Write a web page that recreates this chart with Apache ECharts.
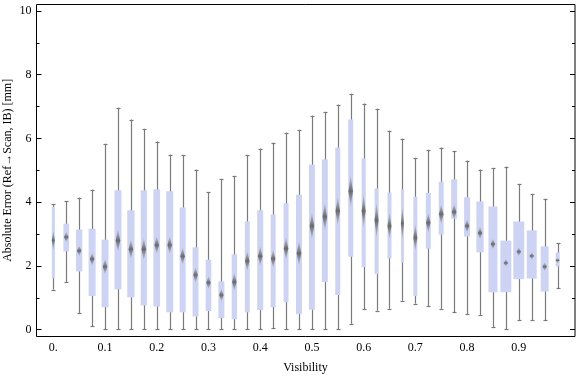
<!DOCTYPE html>
<html>
<head>
<meta charset="utf-8">
<script src="https://cdn.jsdelivr.net/npm/echarts@6/dist/echarts.min.js"></script>
<style>
  html, body { margin: 0; padding: 0; background: #fff; }
  #chart { width: 576px; height: 377px; }
</style>
</head>
<body>
<div id="chart"></div>
<script>
var visibility = ['0.', '0.025', '0.05', '0.075', '0.1', '0.125', '0.15', '0.175', '0.2', '0.225',
  '0.25', '0.275', '0.3', '0.325', '0.35', '0.375', '0.4', '0.425', '0.45', '0.475',
  '0.5', '0.525', '0.55', '0.575', '0.6', '0.625', '0.65', '0.675', '0.7', '0.725',
  '0.75', '0.775', '0.8', '0.825', '0.85', '0.875', '0.9', '0.925', '0.95', '0.975'];

var whiskerLow = [1.25, 1.48, 0.52, 0.10, 0, 0, 0, 0, 0, 0,
  0, 0, 0, 0, 0, 0, 0, 0.05, 0, 0,
  0, 0, 0, 0.18, 0.63, 0.59, 0.65, 0.90, 0.81, 0.74,
  0.65, 0.55, 0.49, 0.46, 0.08, 0, 0.30, 0.30, 0.30, 1.30];
var quart1 = [1.61, 2.45, 1.82, 1.05, 0.70, 1.26, 1.01, 0.75, 0.72, 0.54,
  0.54, 0.41, 0.58, 0.36, 0.32, 0.54, 0.61, 0.70, 0.86, 0.48,
  0.62, 1.49, 1.08, 2.28, 1.96, 1.74, 2.23, 2.10, 1.05, 2.54,
  2.98, 3.48, 2.92, 2.42, 1.17, 1.17, 1.58, 1.60, 1.19, 1.98];
var median = [2.80, 2.90, 2.47, 2.21, 1.97, 2.79, 2.52, 2.52, 2.65, 2.65,
  2.30, 1.71, 1.47, 1.08, 1.49, 2.15, 2.30, 2.22, 2.54, 2.39,
  3.25, 3.54, 3.72, 4.34, 3.72, 3.43, 3.25, 3.33, 2.88, 3.35,
  3.62, 3.69, 3.25, 3.03, 2.68, 2.09, 2.44, 2.31, 1.97, 2.17];
var quart3 = [3.85, 3.32, 3.14, 3.16, 2.82, 4.37, 3.74, 4.37, 4.40, 4.34,
  3.83, 2.58, 2.19, 1.51, 2.36, 3.39, 3.74, 3.61, 3.96, 4.23,
  5.18, 5.34, 5.71, 6.59, 5.37, 4.43, 4.30, 4.40, 4.17, 4.29,
  4.64, 4.71, 4.15, 4.02, 3.86, 2.79, 3.39, 3.11, 2.61, 2.42];
var whiskerHigh = [3.94, 4.03, 4.14, 4.39, 5.83, 6.96, 6.59, 6.30, 5.90, 5.49,
  5.48, 5.02, 4.31, 4.73, 4.82, 5.48, 5.68, 5.86, 6.18, 6.27,
  6.71, 6.83, 7.06, 7.40, 7.09, 6.93, 6.24, 5.99, 5.39, 5.64,
  5.71, 5.59, 5.30, 5.02, 5.07, 5.11, 4.57, 4.26, 4.10, 2.70];
// half height of the median diamond (uncertainty of the median)
var medianSpread = [0.31, 0.16, 0.16, 0.20, 0.24, 0.36, 0.31, 0.35, 0.28, 0.28,
  0.27, 0.24, 0.20, 0.19, 0.28, 0.31, 0.31, 0.28, 0.35, 0.39,
  0.42, 0.44, 0.44, 0.50, 0.52, 0.55, 0.42, 0.52, 0.42, 0.31,
  0.31, 0.24, 0.20, 0.19, 0.16, 0.11, 0.13, 0.11, 0.13, 0.08];
// relative sample weight, sets the box width
var boxWeight = [3, 5.7, 6.3, 7, 7, 7, 7.3, 6.3, 6.7, 7,
  6, 6, 5.7, 6, 5.3, 5, 6, 5, 5, 6,
  6, 6, 5, 5, 4, 4, 4, 3, 4, 5,
  5, 6, 6, 7.3, 9, 11, 11, 10, 8, 4];

var yTicks = { min: 0, max: 10, interval: 2 };

var boxData = [];
for (var i = 0; i < visibility.length; ++i) {
  boxData.push([i, whiskerLow[i], quart1[i], median[i], quart3[i], whiskerHigh[i]]);
}

var serif = 'Liberation Serif, Times New Roman, serif';
var boxColor = '#ccd3f5';
var whiskerColor = '#7a7a7a';

function renderBox(params, api) {
  var i = api.value(0);
  var xc = api.coord([i, 0])[0];
  var band = api.size([1, 0])[0];
  var w = boxWeight[i] * band / 13;
  var yLow = api.coord([i, api.value(1)])[1];
  var yQ1 = api.coord([i, api.value(2)])[1];
  var yMed = api.coord([i, api.value(3)])[1];
  var yQ3 = api.coord([i, api.value(4)])[1];
  var yHigh = api.coord([i, api.value(5)])[1];
  var dh = api.size([0, medianSpread[i]])[1];
  var dw = Math.min(w, 4.5) / 2;
  var xl = Math.round(xc) + 0.5;
  var cap = 2;
  return {
    type: 'group',
    children: [
      { type: 'line', shape: { x1: xl, y1: yLow, x2: xl, y2: yHigh },
        style: { stroke: whiskerColor, lineWidth: 1.2 } },
      { type: 'line', shape: { x1: xl - cap, y1: Math.round(yLow) + 0.5, x2: xl + cap, y2: Math.round(yLow) + 0.5 },
        style: { stroke: whiskerColor, lineWidth: 1.2 } },
      { type: 'line', shape: { x1: xl - cap, y1: Math.round(yHigh) + 0.5, x2: xl + cap, y2: Math.round(yHigh) + 0.5 },
        style: { stroke: whiskerColor, lineWidth: 1.2 } },
      { type: 'rect', shape: { x: xc - w / 2, y: yQ3, width: w, height: yQ1 - yQ3 },
        style: { fill: boxColor } },
      { type: 'polygon',
        shape: { points: [[xc, yMed - dh], [xc + dw, yMed], [xc, yMed + dh], [xc - dw, yMed]] },
        style: { fill: new echarts.graphic.LinearGradient(0, 0, 0, 1, [
          { offset: 0, color: 'rgba(130,130,130,0.2)' },
          { offset: 0.5, color: 'rgba(105,105,105,1)' },
          { offset: 1, color: 'rgba(130,130,130,0.2)' }
        ]) } }
    ]
  };
}

var chart = echarts.init(document.getElementById('chart'));
var tickStyle = { color: '#000', width: 1 };
var option = {
  animation: false,
  grid: [
    { left: 36.5, top: 4.5, width: 538.5, height: 332, show: true, borderColor: '#000', borderWidth: 1,
      backgroundColor: 'transparent', containLabel: false, outerBoundsMode: 'none' },
    { left: 36.5, top: 11, width: 538.5, height: 318.7, containLabel: false, outerBoundsMode: 'none' },
    { left: 46.84, top: 4.5, width: 517.2, height: 332, containLabel: false, outerBoundsMode: 'none' }
  ],
  xAxis: [
    { gridIndex: 2, type: 'category', data: visibility, position: 'bottom',
      axisLine: { show: false },
      axisTick: { inside: true, alignWithLabel: true, interval: 0, length: 4, lineStyle: tickStyle },
      axisLabel: { interval: 3, margin: 5, fontFamily: serif, fontSize: 12, color: '#000' },
      name: 'Visibility', nameLocation: 'middle', nameGap: 25, nameMoveOverlap: false,
      nameTextStyle: { fontFamily: serif, fontSize: 12, color: '#000' } },
    { gridIndex: 2, type: 'category', data: visibility, position: 'top',
      axisLine: { show: false },
      axisTick: { inside: true, alignWithLabel: true, interval: 0, length: 4, lineStyle: tickStyle },
      axisLabel: { show: false } },
    { gridIndex: 0, type: 'value', show: false },
    { gridIndex: 1, type: 'value', show: false }
  ],
  yAxis: [
    { gridIndex: 2, type: 'value', min: -0.22, max: 10.2, show: false },
    { gridIndex: 1, type: 'value', position: 'left', min: yTicks.min, max: yTicks.max, interval: yTicks.interval,
      axisLine: { show: false }, splitLine: { show: false },
      axisTick: { inside: true, length: 5, lineStyle: tickStyle },
      minorTick: { show: true, splitNumber: 2, length: 3, lineStyle: tickStyle },
      axisLabel: { margin: 5, fontFamily: serif, fontSize: 12, color: '#000' },
      name: 'Absolute Error (Ref\u2192Scan, IB) [mm]', nameLocation: 'middle', nameGap: 23, nameMoveOverlap: false,
      nameTextStyle: { fontFamily: serif, fontSize: 12, color: '#000' } },
    { gridIndex: 1, type: 'value', position: 'right', min: yTicks.min, max: yTicks.max, interval: yTicks.interval,
      axisLine: { show: false }, splitLine: { show: false },
      axisTick: { inside: true, length: 5, lineStyle: tickStyle },
      minorTick: { show: true, splitNumber: 2, length: 3, lineStyle: tickStyle },
      axisLabel: { show: false } },
    { gridIndex: 0, type: 'value', show: false }
  ],
  series: [
    { type: 'custom', xAxisIndex: 0, yAxisIndex: 0, renderItem: renderBox, data: boxData, clip: false }
  ]
};
chart.setOption(option);
</script>
</body>
</html>
